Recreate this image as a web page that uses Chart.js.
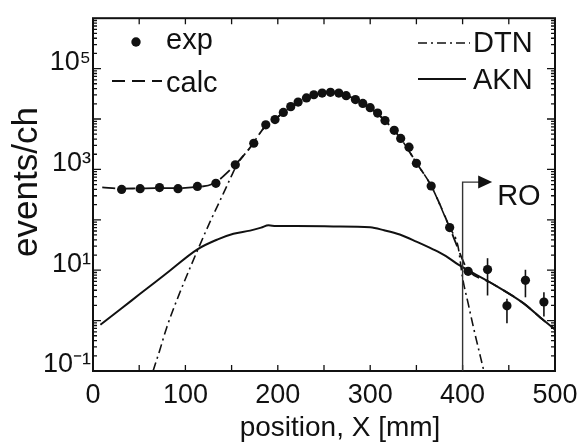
<!DOCTYPE html>
<html>
<head>
<meta charset="utf-8">
<script src="https://cdn.jsdelivr.net/npm/chart.js@4.4.1/dist/chart.umd.min.js"></script>
<style>
  html, body { margin:0; padding:0; background:#fff; }
  #wrap { position:relative; width:588px; height:447px; }
</style>
</head>
<body>
<div id="wrap"><canvas id="c"></canvas></div>
<script>
// ── values ──
const expX = [31, 51, 72, 92, 113, 133, 154, 174, 187, 197, 206, 214, 222, 231, 239, 248, 257, 266, 274, 284,
              292, 300, 308, 316, 326, 333, 342, 350, 366, 386, 406, 427, 448, 468, 488];
const expY = [400, 415, 435, 415, 460, 530, 1230, 3300, 7650, 9750, 13500, 17600, 21700, 26200, 30300, 32700, 33800, 32700, 29000, 24300,
              20400, 16800, 13100, 9300, 5970, 4110, 2760, 1320, 468, 70, 9.5, 10.3, 1.96, 6.3, 2.34];

// error bars on the tail points
const errX  = [427, 448, 468, 488];
const errLo = [3.15, 0.89, 2.9, 1.2];
const errHi = [17.3, 2.71, 10.2, 3.65];

const calcX = [10, 30, 50, 70, 90, 110, 130, 150, 170, 187, 200, 215, 230, 245, 257, 270, 285, 300, 316, 333,
               350, 366, 386, 394, 400, 405, 430, 466, 488, 500];
const calcY = [440, 415, 420, 425, 425, 445, 520, 1050, 2700, 7400, 11000, 17500, 25500, 31500, 33500, 31000, 24000, 16500, 9300, 4100,
               1350, 470, 70, 30, 16, 10.5, 5.7, 2.2, 1.0, 0.67];

const dtnX = [65, 72, 80, 94, 114, 127, 141, 150, 156, 170, 187, 200, 215, 230, 245, 257, 270, 285, 300, 316,
              333, 350, 366, 386, 395, 400, 406, 412, 423];
const dtnY = [0.1, 0.25, 0.75, 3.6, 27, 94, 330, 750, 1260, 2700, 7400, 11000, 17500, 25500, 31500, 33500, 31000, 24000, 16500, 9300,
              4100, 1350, 470, 70, 30, 7, 2.2, 0.7, 0.1];

const aknX = [8, 30, 51, 80, 113, 135, 152, 170, 182, 190, 198, 220, 260, 300, 315, 332, 350, 368, 382, 395,
              430, 466, 488, 500];
const aknY = [0.83, 1.7, 3.4, 8.8, 26, 41, 53, 61, 70, 78, 75, 75, 74, 71, 62, 51, 37, 26, 19, 13,
              5.7, 2.2, 1.0, 0.67];

const xTicks = [0, 100, 200, 300, 400, 500];
const yLabels = { 0.1:'10⁻¹', 10:'10¹', 1000:'10³', 100000:'10⁵' };

// RO marker: vertical at x=400, arrow to the right
const roX = 400, roTop = 560, roTip = 432;

const FONT = "'Liberation Sans', Arial, Helvetica, sans-serif";
const ink = '#111';
const pts = (xs, ys) => xs.map((v, i) => ({ x: v, y: ys[i] }));

function dashLine(ctx, x0, x1, y, dash, w) {
  ctx.save();
  ctx.setLineDash(dash);
  ctx.lineWidth = w;
  ctx.beginPath(); ctx.moveTo(x0, y); ctx.lineTo(x1, y); ctx.stroke();
  ctx.restore();
}

// frame, inward ticks, error bars, legend, RO, axis titles
const decorPlugin = {
  id: 'decor',
  afterDatasetsDraw(chart) {
    const { ctx, chartArea: a, scales: { x, y } } = chart;
    ctx.save();
    ctx.strokeStyle = ink; ctx.fillStyle = ink;

    // error bars
    ctx.lineWidth = 1.6;
    errX.forEach((v, i) => {
      const px = x.getPixelForValue(v);
      ctx.beginPath();
      ctx.moveTo(px, y.getPixelForValue(errLo[i]));
      ctx.lineTo(px, y.getPixelForValue(errHi[i]));
      ctx.stroke();
    });

    // frame
    ctx.lineWidth = 2;
    ctx.strokeRect(a.left, a.top, a.right - a.left, a.bottom - a.top);

    // y ticks (log), both sides, pointing inward
    ctx.lineWidth = 1.3;
    for (let k = -1; k <= 5; k++) {
      for (let m = 1; m <= 9; m++) {
        const py = y.getPixelForValue(m * Math.pow(10, k));
        const len = m === 1 ? 8 : 4;
        ctx.beginPath();
        ctx.moveTo(a.left, py); ctx.lineTo(a.left + len, py);
        ctx.moveTo(a.right, py); ctx.lineTo(a.right - len, py);
        ctx.stroke();
      }
    }
    // x ticks every 50, bottom and top
    for (let v = 50; v < 500; v += 50) {
      const px = x.getPixelForValue(v);
      ctx.beginPath();
      ctx.moveTo(px, a.bottom); ctx.lineTo(px, a.bottom - 6);
      ctx.moveTo(px, a.top); ctx.lineTo(px, a.top + 6);
      ctx.stroke();
    }

    // RO marker
    const rx = x.getPixelForValue(roX), ry = y.getPixelForValue(roTop), tip = x.getPixelForValue(roTip);
    ctx.strokeStyle = '#333'; ctx.lineWidth = 1.4;
    ctx.beginPath();
    ctx.moveTo(rx, a.bottom); ctx.lineTo(rx, ry); ctx.lineTo(tip - 13, ry);
    ctx.stroke();
    ctx.beginPath();
    ctx.moveTo(tip, ry); ctx.lineTo(tip - 14, ry - 6.5); ctx.lineTo(tip - 14, ry + 6.5); ctx.closePath();
    ctx.fill();
    ctx.font = `29px ${FONT}`;
    ctx.textAlign = 'left'; ctx.textBaseline = 'alphabetic';
    ctx.fillText('RO', tip + 5, ry + 23);

    // legend
    ctx.strokeStyle = ink; ctx.fillStyle = ink;
    ctx.beginPath(); ctx.arc(136, 42, 4.7, 0, Math.PI * 2); ctx.fill();
    ctx.fillText('exp', 166, 49);
    dashLine(ctx, 112, 162, 81, [13, 7], 1.8);
    ctx.fillText('calc', 166, 92);
    dashLine(ctx, 418, 470, 43, [9, 4, 2, 4], 1.6);
    ctx.fillText('DTN', 473, 52);
    dashLine(ctx, 418, 466, 79, [], 2);
    ctx.fillText('AKN', 473, 89);

    // axis titles
    ctx.textAlign = 'center';
    ctx.font = `28px ${FONT}`;
    ctx.fillText('position, X [mm]', 340, 436);
    ctx.save();
    ctx.translate(37, 182);
    ctx.rotate(-Math.PI / 2);
    ctx.font = `35px ${FONT}`;
    ctx.fillText('events/ch', 0, 0);
    ctx.restore();

    ctx.restore();
  }
};

new Chart(document.getElementById('c'), {
  type: 'scatter',
  data: {
    datasets: [
      { label: 'exp', data: pts(expX, expY), showLine: false, pointRadius: 4.6, pointHoverRadius: 4.6,
        pointBackgroundColor: ink, pointBorderWidth: 0, order: 0 },
      { label: 'calc', data: pts(calcX, calcY), showLine: true, borderColor: ink, borderWidth: 1.8,
        borderDash: [13, 7], pointRadius: 0, cubicInterpolationMode: 'monotone', order: 1 },
      { label: 'DTN', data: pts(dtnX, dtnY), showLine: true, borderColor: ink, borderWidth: 1.6,
        borderDash: [9, 4, 2, 4], pointRadius: 0, cubicInterpolationMode: 'monotone', order: 2 },
      { label: 'AKN', data: pts(aknX, aknY), showLine: true, borderColor: ink, borderWidth: 2,
        pointRadius: 0, cubicInterpolationMode: 'monotone', order: 3 },
    ]
  },
  options: {
    responsive: true, maintainAspectRatio: false, animation: false,
    layout: { padding: { top: 8, right: 33, left: 0, bottom: 0 } },
    plugins: { legend: { display: false }, tooltip: { enabled: false } },
    scales: {
      x: {
        type: 'linear', min: 0, max: 500,
        afterFit: s => { s.height = 76; },
        afterBuildTicks: s => { s.ticks = xTicks.map(v => ({ value: v })); },
        grid: { display: false, drawTicks: false },
        border: { display: false },
        ticks: { color: ink, padding: 8, maxRotation: 0, font: { family: FONT, size: 27 } }
      },
      y: {
        type: 'logarithmic', min: 0.1, max: 1e6,
        afterFit: s => { s.width = 93; },
        afterBuildTicks: s => { s.ticks = [0.1, 1, 10, 100, 1000, 1e4, 1e5, 1e6].map(v => ({ value: v })); },
        grid: { display: false, drawTicks: false },
        border: { display: false },
        ticks: { color: ink, padding: 2, labelOffset: -6, autoSkip: false,
                 font: { family: FONT, size: 27 },
                 callback: v => yLabels[v] || '' }
      }
    }
  },
  plugins: [decorPlugin]
});
</script>
</body>
</html>
